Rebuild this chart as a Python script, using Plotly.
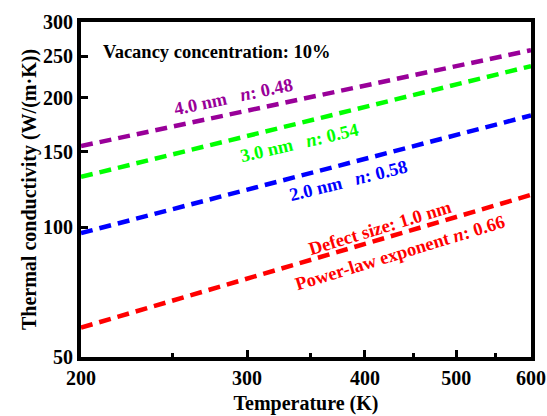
import plotly.graph_objects as go

temperature = [200, 600]
k_1nm = [58.5, 119.0]
k_2nm = [97.0, 182.0]
k_3nm = [131.0, 237.0]
k_4nm = [154.5, 258.0]

series = [
    ("1.0 nm", k_1nm, "#FF0000"),
    ("2.0 nm", k_2nm, "#0000FF"),
    ("3.0 nm", k_3nm, "#00FF00"),
    ("4.0 nm", k_4nm, "#990099"),
]

x_major = [200, 300, 400, 500, 600]
x_minor = [250, 350, 450, 550]
y_ticks = [50, 100, 150, 200, 250, 300]

FONT = "Liberation Serif"

fig = go.Figure()
for name, vals, col in series:
    fig.add_trace(go.Scatter(x=temperature, y=vals, mode="lines", name=name,
                             line=dict(color=col, width=4.5, dash="12px,7px"),
                             showlegend=False))

L, R, T, B = 81, 16, 22, 59
W, H = 547, 416
pw, ph = W - L - R, H - T - B

def px(x):
    return (x - L) / pw

def py(y):
    return (H - B - y) / ph

AS = 18.5
annots = [
    ("<b>Vacancy concentration: 10%</b>", 216, 52, 0, "black", AS),
    ("<b>4.0 nm   <i>n</i>: 0.48</b>", 233, 97, -12, "#990099", AS),
    ("<b>3.0 nm   <i>n</i>: 0.54</b>", 299, 143, -13, "#00FF00", AS),
    ("<b>2.0 nm   <i>n</i>: 0.58</b>", 348, 181, -14, "#0000FF", AS),
    ("<b>Defect size: 1.0 nm</b>", 380, 228, -17, "#FF0000", AS),
    ("<b>Power-law exponent <i>n</i>: 0.66</b>", 400, 253, -17, "#FF0000", AS),
]
for text, x, y, ang, col, sz in annots:
    fig.add_annotation(x=px(x), y=py(y), xref="paper", yref="paper", text=text,
                       showarrow=False, textangle=ang,
                       font=dict(family=FONT, size=sz, color=col),
                       xanchor="center", yanchor="middle")

axis_common = dict(showline=True, linecolor="black", linewidth=4, mirror=True,
                   ticks="inside", tickcolor="black", tickwidth=3, ticklen=7,
                   showgrid=False, zeroline=False, automargin=False,
                   tickfont=dict(family=FONT, size=20, color="black"))

fig.update_xaxes(type="log", range=[2.30103, 2.778151], tickmode="array",
                 tickvals=x_major, ticktext=[f"<b>{v}</b>" for v in x_major],
                 minor=dict(tickmode="array", tickvals=x_minor, ticks="inside",
                            ticklen=4, tickwidth=3, tickcolor="black", showgrid=False),
                 title=dict(text="<b>Temperature (K)</b>", standoff=9,
                            font=dict(family=FONT, size=20, color="black")),
                 **axis_common)
fig.update_yaxes(type="log", range=[1.69897, 2.4771213], tickmode="array",
                 tickvals=y_ticks, ticktext=[f"<b>{v}</b>" for v in y_ticks],
                 title=dict(text="<b>Thermal conductivity (W/(m·K))</b>", standoff=2,
                            font=dict(family=FONT, size=20, color="black")),
                 **axis_common)

fig.update_layout(width=W, height=H, margin=dict(l=L, r=R, t=T, b=B),
                  paper_bgcolor="white", plot_bgcolor="white",
                  font=dict(family=FONT, color="black"))

fig.write_html("out.html")
